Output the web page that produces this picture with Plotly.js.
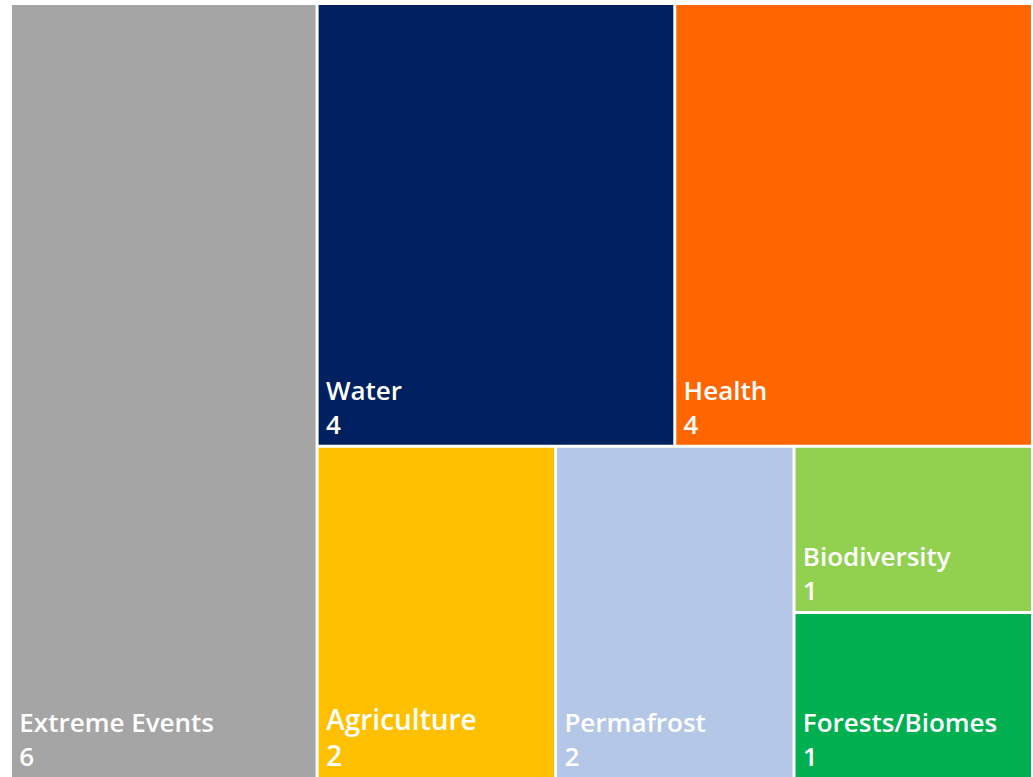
<!DOCTYPE html>
<html>
<head>
<meta charset="utf-8">
<script src="https://cdn.plot.ly/plotly-3.0.1.min.js"></script>
<style>html,body{margin:0;padding:0;background:#fff;}#chart{width:1033px;height:777px;}</style>
</head>
<body>
<div id="chart"></div>
<script>
// Leaf categories and values
const categories = ["Extreme Events", "Water", "Health", "Agriculture", "Permafrost", "Biodiversity", "Forests/Biomes"];
const values = [6, 4, 4, 2, 2, 1, 1];
const colors = ["#A5A5A5", "#002060", "#FF6600", "#FFC000", "#B4C7E7", "#92D050", "#00B050"];
// structural (unlabelled) grouping used only to reproduce the tile arrangement
const leafParents = ["root", "top", "top", "bottom", "bottom", "small", "small"];
const groupIds = ["root", "rest", "top", "bottom", "small"];
const groupParents = ["", "root", "rest", "rest", "bottom"];

function isUnder(p, g) {
  while (p) { if (p === g) return true; p = groupParents[groupIds.indexOf(p)]; }
  return false;
}
function sumFor(g) {
  let s = 0;
  categories.forEach((c, i) => { if (isUnder(leafParents[i], g)) s += values[i]; });
  return s;
}

const ids = [], labels = [], parents = [], vals = [], cols = [], texts = [], sizes = [];
groupIds.forEach((g, i) => {
  ids.push(g); labels.push(""); parents.push(groupParents[i]); vals.push(sumFor(g));
  cols.push(g === "root" ? "#ffffff" : "rgba(0,0,0,0)"); texts.push(""); sizes.push(26);
});
const IND = "\u2009";
categories.forEach((c, i) => {
  ids.push("leaf" + i); labels.push(c); parents.push(leafParents[i]); vals.push(values[i]);
  cols.push(colors[i]); texts.push(IND + c + "<br>" + IND + values[i]); sizes.push(c === "Agriculture" ? 28 : 26);
});
function idx(id) { return ids.indexOf(id); }
const seq = ["root", "leaf0", "rest", "top", "leaf1", "leaf2", "bottom", "leaf3", "leaf4", "small", "leaf5", "leaf6"].map(idx);
const pick = arr => seq.map(i => arr[i]);

const trace = {
  type: "treemap",
  ids: pick(ids), labels: pick(labels), parents: pick(parents), values: pick(vals),
  text: pick(texts),
  textinfo: "text",
  branchvalues: "total",
  sort: false,
  tiling: { packing: "slice-dice", pad: 3 },
  marker: { colors: pick(cols), line: { width: 0, color: "#ffffff" }, pad: { t: 0, l: 0, r: 0, b: 0 } },
  pathbar: { visible: false },
  textposition: "bottom left",
  textfont: { family: "Open Sans, Noto Sans, sans-serif", size: pick(sizes), color: "#ffffff", weight: 600 },
  hoverinfo: "skip"
};

Plotly.newPlot("chart", [trace], {
  width: 1033, height: 777,
  margin: { l: 12, r: 2, t: 5, b: 0 },
  paper_bgcolor: "#ffffff",
  showlegend: false
}, { displayModeBar: false, staticPlot: true });
</script>
</body>
</html>
